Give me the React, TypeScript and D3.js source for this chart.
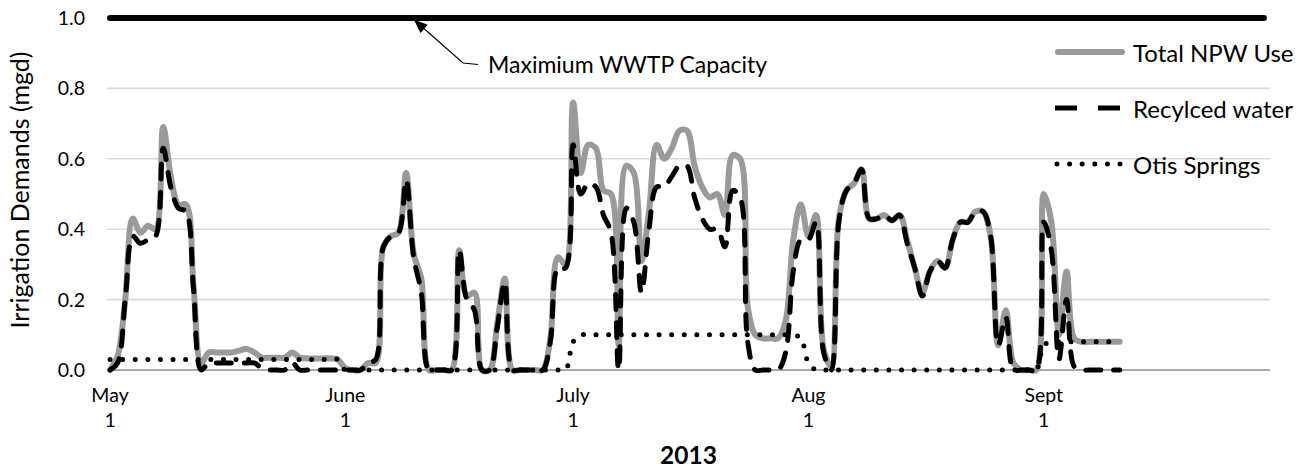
import React from 'react';
import * as d3 from 'd3';

// ---------- data ----------
const startDate = new Date(2013, 4, 1);
const monthStarts = [new Date(2013, 4, 1), new Date(2013, 5, 1), new Date(2013, 6, 1), new Date(2013, 7, 1), new Date(2013, 8, 1)];
const monthLabels = ['May', 'June', 'July', 'Aug', 'Sept'];
const monthDayLabel = '1';
const yearLabel = '2013';
const yTicks = [0, 0.2, 0.4, 0.6, 0.8, 1.0];
const yTickLabels = ['0.0', '0.2', '0.4', '0.6', '0.8', '1.0'];
const capacityValue = 1.0;
const capacityDays = [0, 152];

const totalNPW = [
  0.00, 0.04, 0.20, 0.43, 0.39, 0.41, 0.40, 0.69, 0.55, 0.47,
  0.47, 0.24, 0.02, 0.05, 0.05, 0.05, 0.05, 0.055, 0.06, 0.05,
  0.035, 0.035, 0.035, 0.035, 0.05, 0.035, 0.033, 0.033, 0.033, 0.033,
  0.03, 0.005, 0.0, 0.0, 0.02, 0.02, 0.35, 0.38, 0.39, 0.56,
  0.33, 0.26, 0.0, 0.0, 0.0, 0.0, 0.34, 0.21, 0.22, 0.0,
  0.0, 0.13, 0.26, 0.0, 0.0, 0.0, 0.0, 0.0, 0.09, 0.32,
  0.30, 0.76, 0.56, 0.64, 0.63, 0.51, 0.50, 0.07, 0.58, 0.56,
  0.31, 0.45, 0.64, 0.60, 0.63, 0.68, 0.68, 0.58, 0.52, 0.49,
  0.50, 0.44, 0.61, 0.60, 0.18, 0.10, 0.09, 0.09, 0.09, 0.14,
  0.37, 0.47, 0.38, 0.44, 0.06, 0.01, 0.43, 0.51, 0.53, 0.57,
  0.43, 0.43, 0.44, 0.425, 0.44, 0.37, 0.29, 0.22, 0.28, 0.31,
  0.29, 0.37, 0.42, 0.42, 0.45, 0.45, 0.38, 0.07, 0.17, 0.02,
  0.0, 0.0, 0.0, 0.50, 0.42, 0.10, 0.28, 0.09, 0.08, 0.08,
  0.08, 0.08, 0.08, 0.08,
];

const recycledWater = [
  0.00, 0.02, 0.20, 0.38, 0.36, 0.37, 0.38, 0.63, 0.52, 0.46,
  0.45, 0.23, 0.0, 0.02, 0.02, 0.02, 0.02, 0.02, 0.02, 0.02,
  0.005, 0, 0, 0, 0.02, 0, 0, 0, 0, 0,
  0, 0, 0, 0, 0.02, 0.03, 0.35, 0.38, 0.39, 0.54,
  0.32, 0.22, 0, 0, 0, 0, 0.34, 0.20, 0.17, 0,
  0, 0.12, 0.25, 0, 0, 0, 0, 0, 0.08, 0.29,
  0.29, 0.64, 0.50, 0.53, 0.52, 0.44, 0.39, 0.0, 0.46, 0.42,
  0.22, 0.40, 0.52, 0.52, 0.55, 0.58, 0.58, 0.49, 0.43, 0.40,
  0.40, 0.35, 0.51, 0.49, 0.08, 0, 0, 0, 0, 0.05,
  0.28, 0.37, 0.37, 0.42, 0.05, 0, 0.42, 0.51, 0.53, 0.57,
  0.43, 0.43, 0.44, 0.425, 0.44, 0.36, 0.29, 0.21, 0.28, 0.31,
  0.29, 0.37, 0.42, 0.42, 0.45, 0.45, 0.38, 0.07, 0.15, 0.0,
  0, 0, 0, 0.42, 0.34, 0.03, 0.20, 0.01, 0, 0,
  0, 0, 0, 0,
];

const otisSprings = [
  0.03, 0.03, 0.03, 0.03, 0.03, 0.03, 0.03, 0.03, 0.03, 0.03,
  0.03, 0.03, 0.03, 0.03, 0.03, 0.03, 0.03, 0.03, 0.03, 0.03,
  0.03, 0.03, 0.03, 0.03, 0.03, 0.03, 0.03, 0.03, 0.03, 0.03,
  0.03, 0, 0, 0, 0, 0, 0, 0, 0, 0,
  0, 0, 0, 0, 0, 0, 0, 0, 0, 0,
  0, 0, 0, 0, 0, 0, 0, 0, 0, 0,
  0, 0.08, 0.1, 0.1, 0.1, 0.1, 0.1, 0.1, 0.1, 0.1,
  0.1, 0.1, 0.1, 0.1, 0.1, 0.1, 0.1, 0.1, 0.1, 0.1,
  0.1, 0.1, 0.1, 0.1, 0.1, 0.1, 0.1, 0.1, 0.1, 0.1,
  0.1, 0.09, 0.02, 0, 0, 0, 0, 0, 0, 0,
  0, 0, 0, 0, 0, 0, 0, 0, 0, 0,
  0, 0, 0, 0, 0, 0, 0, 0, 0, 0,
  0, 0, 0, 0.07, 0.08, 0.08, 0.08, 0.08, 0.08, 0.08,
  0.08, 0.08, 0.08, 0.08,
];

const legendItems = ['Total NPW Use', 'Recylced water', 'Otis Springs'];
const annotationText = 'Maximium WWTP Capacity';
const yAxisTitle = 'Irrigation Demands (mgd)';

// ---------- layout ----------
const W = 1316;
const H = 472;
const FONT = 'Lato, "Open Sans", sans-serif';
const GRAY = '#9a9a9a';

export default function App() {
  const x = d3.scaleLinear().domain([-0.4, 152.8]).range([107, 1270]);
  const y = d3.scaleLinear().domain([0, 1]).range([370, 18]);

  const line = d3
    .line<number>()
    .x((_, i) => x(i))
    .y((d) => y(d))
    .curve(d3.curveCatmullRom.alpha(0.5));

  const capLine = d3
    .line<number>()
    .x((d) => x(d))
    .y(() => y(capacityValue));

  const monthIdx = monthStarts.map((m) => d3.timeDay.count(startDate, m));
  const [x0, x1] = x.range();

  const legendX = 1055;
  const legendRows = [52, 108, 164];

  // annotation pointer
  const tipX = x(40.0);
  const tipY = y(capacityValue) + 1.5;
  const elbowX = 463;
  const elbowY = 63;
  const dx = elbowX - tipX;
  const dy = elbowY - tipY;
  const len = Math.hypot(dx, dy);
  const ux = dx / len;
  const uy = dy / len;
  const ah = 14;
  const aw = 5.5;
  const bx = tipX + ux * ah;
  const by = tipY + uy * ah;
  const arrow = `M${tipX},${tipY} L${bx - uy * aw},${by + ux * aw} L${bx + uy * aw},${by - ux * aw} Z`;

  return (
    <svg
      width={W}
      height={H}
      style={{ position: 'absolute', left: 0, top: 0, display: 'block', background: '#fff' }}
      fontFamily={FONT}
    >
      <rect width={W} height={H} fill="#fff" />
      {/* gridlines */}
      {yTicks.slice(1, -1).map((t) => (
        <line key={t} x1={x0} x2={x1} y1={y(t)} y2={y(t)} stroke="#d9d9d9" strokeWidth={1.6} />
      ))}
      {/* x axis baseline */}
      <line x1={x0} x2={x1} y1={y(0)} y2={y(0)} stroke="#8c8c8c" strokeWidth={1.3} />

      {/* y tick labels */}
      {yTicks.map((t, i) => (
        <text key={t} x={85} y={y(t)} dy="0.36em" textAnchor="end" fontSize={19.5} fill="#000">
          {yTickLabels[i]}
        </text>
      ))}

      {/* x tick labels */}
      {monthIdx.map((d, i) => (
        <g key={monthLabels[i]}>
          <text x={x(d)} y={402} textAnchor="middle" fontSize={19.5} fill="#000">
            {monthLabels[i]}
          </text>
          <text x={x(d)} y={427} textAnchor="middle" fontSize={19.5} fill="#000">
            {monthDayLabel}
          </text>
        </g>
      ))}

      {/* axis titles */}
      <text x={(x0 + x1) / 2} y={464} textAnchor="middle" fontSize={24.5} fontWeight="bold" fill="#000">
        {yearLabel}
      </text>
      <text
        transform={`translate(29,${190}) rotate(-90)`}
        textAnchor="middle"
        fontSize={25}
        fill="#000"
      >
        {yAxisTitle}
      </text>

      {/* capacity line */}
      <path d={capLine(capacityDays) || ''} fill="none" stroke="#000" strokeWidth={6} strokeLinecap="round" />

      {/* series */}
      <path d={line(totalNPW) || ''} fill="none" stroke={GRAY} strokeWidth={6} strokeLinejoin="round" strokeLinecap="round" />
      <path
        d={line(recycledWater) || ''}
        fill="none"
        stroke="#000"
        strokeWidth={5}
        strokeDasharray="15 13"
        strokeLinecap="round"
        strokeLinejoin="round"
      />
      <path
        d={line(otisSprings) || ''}
        fill="none"
        stroke="#000"
        strokeWidth={5}
        strokeDasharray="0 12.6"
        strokeLinecap="round"
      />

      {/* annotation */}
      <polyline
        points={`${bx},${by} ${elbowX},${elbowY} ${478},${elbowY + 1.5}`}
        fill="none"
        stroke="#000"
        strokeWidth={1.2}
      />
      <path d={arrow} fill="#000" />
      <text x={488} y={73} fontSize={23} fill="#000">
        {annotationText}
      </text>

      {/* legend */}
      <line x1={legendX + 3} x2={legendX + 67} y1={legendRows[0]} y2={legendRows[0]} stroke={GRAY} strokeWidth={6} strokeLinecap="round" />
      <line x1={legendX} x2={legendX + 70} y1={legendRows[1]} y2={legendRows[1]} stroke="#000" strokeWidth={5} strokeDasharray="22 21" />
      <line x1={legendX + 2} x2={legendX + 68} y1={legendRows[2]} y2={legendRows[2]} stroke="#000" strokeWidth={5} strokeDasharray="0 12.6" strokeLinecap="round" />
      {legendItems.map((label, i) => (
        <text key={label} x={1133} y={legendRows[i] + 1} dy="0.36em" fontSize={24} fill="#000">
          {label}
        </text>
      ))}
    </svg>
  );
}
